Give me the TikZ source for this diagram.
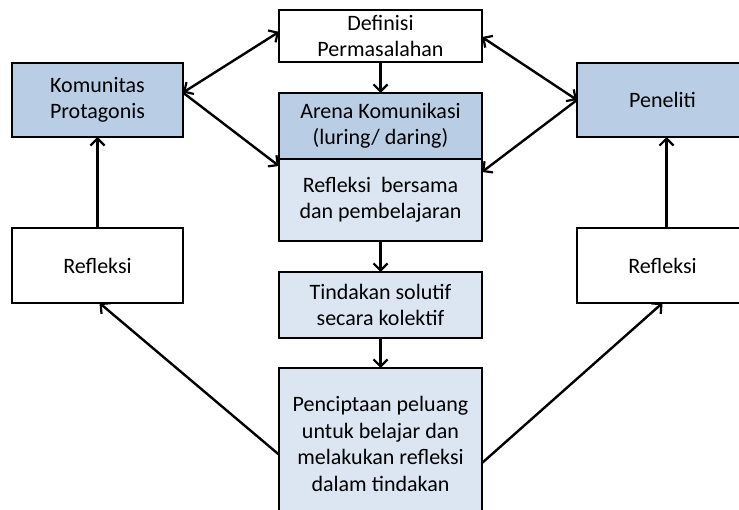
\documentclass[tikz,border=0pt]{standalone}
\usepackage{fontspec}
\setmainfont{Carlito}
\usetikzlibrary{arrows.meta,calc}
\definecolor{bluedark}{HTML}{B9CDE5}
\definecolor{bluelight}{HTML}{DCE6F2}
\begin{document}
\begin{tikzpicture}[x=1pt,y=-1pt,
  box/.style={draw=black, line width=2pt, rectangle, inner sep=0pt, outer sep=0pt, align=center,
    font=\fontsize{22}{26.5}\selectfont, text=black},
  wide/.style={box, minimum width=203pt},
  side/.style={box, minimum width=171pt, minimum height=74pt},
  tipx/.tip={Straight Barb[length=7pt,width=14pt,line width=2.2pt]},
  conn/.style={line width=2.4pt, -tipx},
  dconn/.style={line width=2.4pt, tipx-tipx}
]
\useasboundingbox (0,0) rectangle (739,510);
\fill[white] (0,0) rectangle (739,510);
\clip (0,0) rectangle (739,510);

\node[wide, minimum height=52pt, fill=white] (def) at (380.5,36) {Definisi\\Permasalahan};
\node[side, fill=bluedark] (kom) at (97.5,100) {Komunitas\\Protagonis};
\node[side, fill=bluedark] (pen) at (662.5,100) {Peneliti};
\node[wide, minimum height=66pt, fill=bluedark] (arena) at (380.5,126) {Arena Komunikasi\\(luring/ daring)};
\node[wide, minimum height=82pt, fill=bluelight] (rb) at (380.5,200) {Refleksi\ \ bersama\\dan pembelajaran};
\node[side, minimum height=75pt, fill=white] (refL) at (97.5,265.5) {Refleksi};
\node[side, minimum height=75pt, fill=white] (refR) at (662.5,265.5) {Refleksi};
\node[wide, minimum height=66pt, fill=bluelight] (tin) at (380.5,305) {Tindakan solutif\\secara kolektif};
\node[wide, minimum height=152pt, fill=bluelight] (pc) at (380.5,444) {Penciptaan peluang\\untuk belajar dan\\melakukan refleksi\\dalam tindakan};

\coordinate (komR) at ($(kom.north east)!0.4!(kom.south east)$);
\coordinate (defL) at ($(def.north west)!0.42!(def.south west)$);
\coordinate (defR) at ($(def.north east)!0.52!(def.south east)$);
\coordinate (penL) at ($(pen.north west)!0.5!(pen.south west)$);
\coordinate (rbL) at ($(rb.north west)+(0,7)$);
\coordinate (rbR) at ($(rb.north east)+(0,13)$);
\coordinate (pcL) at ($(pc.north west)!0.57!(pc.south west)$);
\coordinate (pcR) at ($(pc.north east)!0.625!(pc.south east)$);

\draw[dconn] (komR) -- (defL);
\draw[conn] (komR) -- (rbL);
\draw[dconn] (defR) -- (penL);
\draw[conn] (penL) -- (rbR);
\draw[conn] (def.south) -- (arena.north);
\draw[conn] (rb.south) -- (tin.north);
\draw[conn] (tin.south) -- (pc.north);
\draw[conn] (refL.north) -- (kom.south);
\draw[conn] ($(refR.north)+(4,0)$) -- ($(pen.south)+(4,0)$);
\draw[conn] (pcL) -- ($(refL.south)+(2,0)$);
\draw[conn] (pcR) -- (refR.south);
\end{tikzpicture}
\end{document}
